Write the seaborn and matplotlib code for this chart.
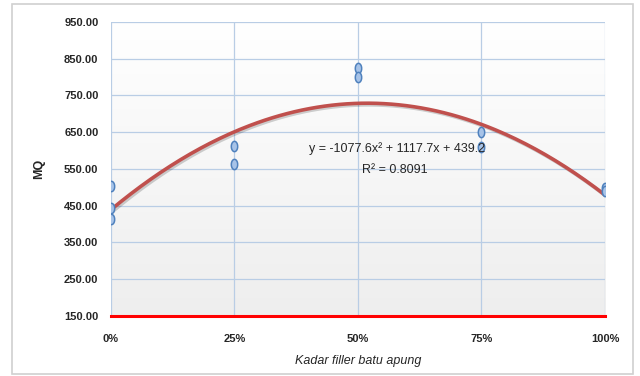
import numpy as np
import pandas as pd
import matplotlib
matplotlib.use("Agg")
import matplotlib.pyplot as plt
import matplotlib.patheffects as pe
from matplotlib.path import Path
from matplotlib.patches import Rectangle
import seaborn as sns

# filler content (fraction) and measured MQ values
kadar = [0, 0, 0, 0.25, 0.25, 0.5, 0.5, 0.75, 0.75, 1.0, 1.0]
mq = [505, 445, 415, 612, 563, 825, 799, 651, 609, 497, 489]

# polynomial trendline shown on the chart: a*x^2 + b*x + c
poly_coef = [-1077.6, 1117.7, 439.2]
r_squared = 0.8091

x_ticks = [0, 0.25, 0.5, 0.75, 1.0]
x_ticklabels = ["0%", "25%", "50%", "75%", "100%"]
y_ticks = [150, 250, 350, 450, 550, 650, 750, 850, 950]

df = pd.DataFrame({"kadar": kadar, "mq": mq})
xs = np.linspace(0, 1, 200)
trend = pd.DataFrame({"kadar": xs, "mq": np.polyval(poly_coef, xs)})

sns.set_style("white")
plt.rcParams["font.family"] = ["Liberation Sans Narrow", "Liberation Sans", "DejaVu Sans"]

fig = plt.figure(figsize=(6.4, 3.76), dpi=100)
ax = fig.add_axes([0.1734, 0.1596, 0.9453 - 0.1734, 0.9415 - 0.1596])

# outer chart frame
fig.patches.append(Rectangle((12 / 640, 0.005), 621 / 640, 1 - 4 / 376 - 0.005,
                             transform=fig.transFigure, fill=False,
                             edgecolor="#d0d0d0", linewidth=1.2))

# gradient plot background: white at top, light grey at bottom
grad = np.linspace(0, 1, 256).reshape(-1, 1)
ax.imshow(grad, extent=[0, 1, 150, 950], aspect="auto", origin="upper",
          cmap=matplotlib.colors.LinearSegmentedColormap.from_list("bg", ["#ffffff", "#eeeeee"]),
          vmin=0, vmax=1, zorder=0)

ax.grid(True, color="#b9cde5", linewidth=0.9, zorder=1)
ax.set_axisbelow(True)

sns.lineplot(data=trend, x="kadar", y="mq", ax=ax, color="#c0504d", linewidth=2.6,
             zorder=3, path_effects=[pe.SimpleLineShadow(offset=(1.2, -1.2), alpha=0.18), pe.Normal()])

t = np.linspace(0, 2 * np.pi, 40)
ellipse = Path(np.column_stack([0.62 * np.cos(t), np.sin(t)]))
sns.scatterplot(data=df, x="kadar", y="mq", ax=ax, marker=ellipse, s=55,
                color="#a7c3e8", edgecolor="#4f81bd", linewidth=1.1, zorder=4)

ax.set_xlim(0, 1)
ax.set_ylim(150, 950)
ax.set_xticks(x_ticks)
ax.set_xticklabels(x_ticklabels, fontsize=8, fontweight="bold")
ax.set_yticks(y_ticks)
ax.set_yticklabels([f"{v:.2f}" for v in y_ticks], fontsize=8, fontweight="bold")
ax.tick_params(axis="x", length=0, pad=13)
ax.tick_params(axis="y", length=0, pad=9)

for side in ["top", "right", "left"]:
    ax.spines[side].set_visible(False)
ax.spines["bottom"].set_color("#ff0000")
ax.spines["bottom"].set_linewidth(2.2)
ax.spines["bottom"].set_zorder(5)

ax.set_xlabel("Kadar filler batu apung", fontsize=9, fontstyle="italic", labelpad=8)
ax.set_ylabel("MQ", fontsize=9, fontweight="bold", labelpad=14)

eq = f"y = {poly_coef[0]}x\u00b2 + {poly_coef[1]}x + {poly_coef[2]}"
ax.text(0.58, 606, eq, fontsize=9, ha="center", va="center", zorder=6)
ax.text(0.575, 548, f"R\u00b2 = {r_squared}", fontsize=9, ha="center", va="center", zorder=6)

fig.savefig("out.png", dpi=100)
